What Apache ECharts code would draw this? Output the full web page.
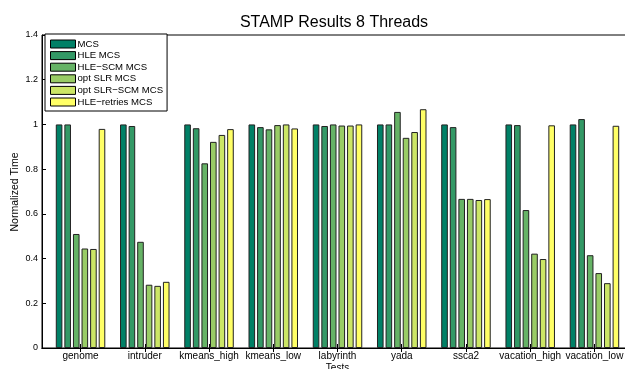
<!DOCTYPE html>
<html><head><meta charset="utf-8">
<script src="https://cdn.jsdelivr.net/npm/echarts@6/dist/echarts.min.js"></script>
<style>html,body{margin:0;padding:0;background:#fff}#c{width:625px;height:369px}</style>
</head><body><div id="c"></div>
<script>
const categories = ['genome','intruder','kmeans_high','kmeans_low','labyrinth','yada','ssca2','vacation_high','vacation_low'];
const seriesNames = ['MCS','HLE MCS','HLE\u2212SCM MCS','opt SLR MCS','opt SLR\u2212SCM MCS','HLE\u2212retries MCS'];
const mcs        = [1.0, 1.0, 1.0, 1.0, 1.0, 1.0, 1.0, 1.0, 1.0];
const hleMcs     = [1.0, 0.993, 0.983, 0.988, 0.993, 1.0, 0.988, 0.997, 1.024];
const hleScmMcs  = [0.51, 0.475, 0.826, 0.978, 1.0, 1.056, 0.667, 0.617, 0.415];
const optSlrMcs  = [0.445, 0.283, 0.922, 0.997, 0.995, 0.94, 0.667, 0.422, 0.335];
const optSlrScm  = [0.443, 0.278, 0.953, 1.0, 0.995, 0.966, 0.662, 0.398, 0.29];
const hleRetries = [0.98, 0.296, 0.979, 0.982, 1.0, 1.068, 0.666, 0.996, 0.994];
const yTicks = [0, 0.2, 0.4, 0.6, 0.8, 1, 1.2, 1.4];
const colors = ['#008066','#339966','#66b366','#99cc66','#cce666','#ffff66'];
const values = [mcs, hleMcs, hleScmMcs, optSlrMcs, optSlrScm, hleRetries];
const positions = categories.map((c, k) => k + 1);

const font = 'Liberation Sans, Arial, Helvetica, sans-serif';
const chart = echarts.init(document.getElementById('c'));
chart.setOption({
  animation: false,
  textStyle: {fontFamily: font},
  title: {text: 'STAMP Results 8 Threads', left: 329, top: 10, textAlign: 'center',
    textStyle: {fontSize: 16, fontWeight: 'normal', color: '#000', fontFamily: font}},
  graphic: [{
    type: 'text', x: 15, y: 192, rotation: Math.PI / 2,
    style: {text: 'Normalized Time', fontSize: 10.5, fill: '#000', fontFamily: font,
      align: 'center', verticalAlign: 'middle'}
  }],
  grid: {left: 42, right: -8, top: 35, bottom: 21, show: true, borderColor: '#000', borderWidth: 1,
    containLabel: false, outerBoundsMode: 'none'},
  legend: {
    orient: 'vertical', left: 45, top: 34, padding: [5, 4, 4, 5],
    itemWidth: 25, itemHeight: 8, itemGap: 1.6, icon: 'rect',
    borderColor: '#000', borderWidth: 1, backgroundColor: '#fff',
    itemStyle: {borderColor: '#000', borderWidth: 1},
    textStyle: {fontSize: 9.6, color: '#000', fontFamily: font, padding: [0,0,0,-3]},
    data: seriesNames
  },
  xAxis: [{
    type: 'value', min: 0.4, max: 9.6,
    name: 'Tests', nameLocation: 'middle', nameGap: 15, nameMoveOverlap: false,
    nameTextStyle: {fontSize: 10, color: '#000', verticalAlign: 'top'},
    axisLine: {lineStyle: {color: '#000'}},
    axisTick: {inside: true, length: 4, lineStyle: {color: '#000'}, customValues: positions},
    axisLabel: {fontSize: 10, color: '#000', margin: 3, customValues: positions,
      formatter: v => categories[Math.round(v) - 1] || ''},
    splitLine: {show: false}
  }, {
    type: 'value', min: 0.4, max: 9.6, position: 'top',
    axisLine: {lineStyle: {color: '#000'}},
    axisTick: {inside: true, length: 4, lineStyle: {color: '#000'}, customValues: positions},
    axisLabel: {show: false}, splitLine: {show: false}
  }],
  yAxis: [{
    type: 'value', min: 0, max: 1.4, interval: 0.2,
    axisLine: {show: true, lineStyle: {color: '#000'}},
    axisTick: {show: true, inside: true, length: 4, lineStyle: {color: '#000'}},
    axisLabel: {fontSize: 9, color: '#000', margin: 4,
      formatter: v => { const t = yTicks.find(x => Math.abs(x - v) < 1e-9); return t === undefined ? '' : String(t); }},
    splitLine: {show: false}
  }, {
    type: 'value', min: 0, max: 1.4, interval: 0.2, position: 'right',
    axisLine: {show: true, lineStyle: {color: '#000'}},
    axisTick: {show: true, inside: true, length: 4, lineStyle: {color: '#000'}},
    axisLabel: {show: false}, splitLine: {show: false}
  }],
  series: seriesNames.map((n, i) => ({
    name: n, type: 'bar', data: values[i].map((v, k) => [positions[k], v]),
    barWidth: 6.6, barGap: '30%',
    itemStyle: {color: colors[i], borderColor: '#222', borderWidth: 1}
  }))
});
</script></body></html>
